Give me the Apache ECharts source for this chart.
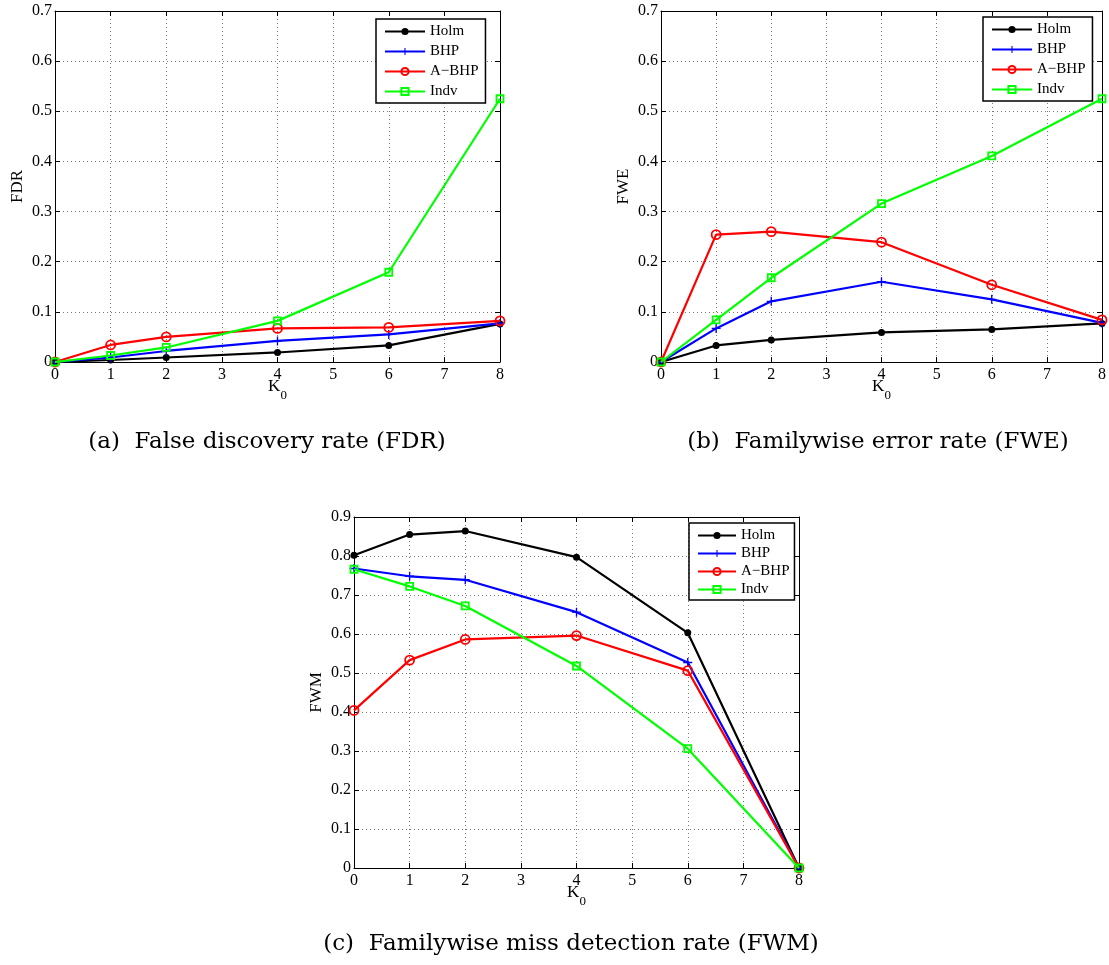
<!DOCTYPE html>
<html><head><meta charset="utf-8">
<script src="https://cdn.jsdelivr.net/npm/echarts@6/dist/echarts.min.js"></script>
<style>html,body{margin:0;padding:0;background:#fff}#c{width:1109px;height:965px}</style>
</head><body><div id="c"></div>
<script>
// ---- data ----
const K0 = [0, 1, 2, 4, 6, 8];
const seriesNames = ['Holm', 'BHP', 'A\u2212BHP', 'Indv'];

const fdrHolm = [0, 0.004, 0.009, 0.019, 0.033, 0.076];
const fdrBHP  = [0, 0.009, 0.022, 0.042, 0.055, 0.077];
const fdrABHP = [0, 0.034, 0.050, 0.067, 0.069, 0.082];
const fdrIndv = [0, 0.013, 0.029, 0.082, 0.179, 0.525];

const fweHolm = [0, 0.033, 0.044, 0.059, 0.065, 0.077];
const fweBHP  = [0, 0.067, 0.121, 0.160, 0.125, 0.078];
const fweABHP = [0, 0.254, 0.260, 0.239, 0.154, 0.084];
const fweIndv = [0, 0.084, 0.168, 0.316, 0.411, 0.525];

const fwmHolm = [0.802, 0.855, 0.864, 0.797, 0.603, 0];
const fwmBHP  = [0.768, 0.748, 0.739, 0.656, 0.527, 0];
const fwmABHP = [0.404, 0.533, 0.586, 0.596, 0.506, 0];
const fwmIndv = [0.766, 0.722, 0.672, 0.518, 0.306, 0];

const panelY = ['FDR', 'FWE', 'FWM'];
const panelYMax = [0.7, 0.7, 0.9];
const captions = ['(a)  False discovery rate (FDR)', '(b)  Familywise error rate (FWE)', '(c)  Familywise miss detection rate (FWM)'];

// ---- styles ----
const FONT = '"Liberation Serif", "Times New Roman", serif';
const colors = ['#000000', '#0000ff', '#ff0000', '#00ff00'];
const PLUS = 'path://M-0.9,-6H0.9V-0.9H6V0.9H0.9V6H-0.9V0.9H-6V-0.9H-0.9Z';
const symbols = ['circle', PLUS, 'circle', 'rect'];
const symbolSizes = [7, 9, 9, 7];
const hollow = [false, false, true, true];

const grids = [
  {left: 55, top: 11, width: 445, height: 351},
  {left: 661, top: 11, width: 444, height: 351},
  {left: 354, top: 517, width: 445, height: 351}
];
const legends = [
  {left: 376, top: 19, gap: 5, pad: [5, 7, 4, 8], iw: 40},
  {left: 983, top: 17, gap: 5, pad: [5, 7, 4, 8], iw: 40},
  {left: 689, top: 523, gap: 3, pad: [5, 5, 3, 8], iw: 38}
];
const capPos = [[267, 442], [878, 442], [571, 944]];

const panelData = [
  [fdrHolm, fdrBHP, fdrABHP, fdrIndv],
  [fweHolm, fweBHP, fweABHP, fweIndv],
  [fwmHolm, fwmBHP, fwmABHP, fwmIndv]
];

const xAxis = [], yAxis = [], series = [], legend = [], graphic = [];
grids.forEach((g, i) => {
  const common = {
    gridIndex: i, type: 'value', min: 0,
    axisLine: {show: true, onZero: false, lineStyle: {color: '#000', width: 1}},
    axisTick: {show: true, inside: true, length: 5, lineStyle: {color: '#000'}},
  };
  xAxis.push(Object.assign({}, common, {
    position: 'bottom', max: 8, interval: 1,
    axisLabel: {color: '#000', fontFamily: FONT, fontSize: 16, margin: 5},
    splitLine: {show: true, lineStyle: {type: [1, 3], color: '#777', width: 1}},
    name: '{k|K}{s|0}', nameLocation: 'middle', nameGap: 16, nameMoveOverlap: false,
    nameTextStyle: {rich: {
      k: {fontFamily: FONT, fontSize: 17, color: '#000', verticalAlign: 'top', lineHeight: 18},
      s: {fontFamily: FONT, fontSize: 13, color: '#000', padding: [17, 0, 0, 0], lineHeight: 14}
    }}
  }));
  xAxis.push(Object.assign({}, common, {
    position: 'top', max: 8, interval: 1,
    axisLabel: {show: false}, splitLine: {show: false}
  }));
  yAxis.push(Object.assign({}, common, {
    position: 'left', max: panelYMax[i], interval: 0.1,
    axisLabel: {color: '#000', fontFamily: FONT, fontSize: 16, margin: 3},
    splitLine: {show: true, lineStyle: {type: [1, 3], color: '#777', width: 1}},
    name: panelY[i], nameLocation: 'middle', nameGap: 29,
    nameTextStyle: {fontFamily: FONT, fontSize: 17, color: '#000'}
  }));
  yAxis.push(Object.assign({}, common, {
    position: 'right', max: panelYMax[i], interval: 0.1,
    axisLabel: {show: false}, splitLine: {show: false}
  }));

  panelData[i].forEach((vals, s) => {
    series.push({
      type: 'line', name: seriesNames[s],
      xAxisIndex: 2 * i, yAxisIndex: 2 * i,
      data: K0.map((k, j) => [k, vals[j]]),
      symbol: symbols[s], symbolSize: symbolSizes[s], showAllSymbol: true,
      lineStyle: {color: colors[s], width: 2.2},
      itemStyle: hollow[s]
        ? {color: 'rgba(255,255,255,0)', borderColor: colors[s], borderWidth: 1.8}
        : {color: colors[s], borderColor: colors[s], borderWidth: 0},
      emphasis: {disabled: true}, animation: false, z: 2 + s
    });
  });

  const L = legends[i];
  legend.push({
    data: seriesNames, orient: 'vertical', left: L.left, top: L.top,
    itemGap: L.gap, itemWidth: L.iw, itemHeight: 9, itemTextGap: 5,
    padding: L.pad, borderColor: '#000', borderWidth: 1.5, backgroundColor: '#fff',
    selectedMode: false,
    textStyle: {fontFamily: FONT, fontSize: 15, color: '#000'}
  });

  graphic.push({
    type: 'text', x: capPos[i][0], y: capPos[i][1],
    style: {text: captions[i], font: '23px "DejaVu Serif", serif', fill: '#000',
      textAlign: 'center', textVerticalAlign: 'middle'}
  });
});

const chart = echarts.init(document.getElementById('c'), null, {renderer: 'canvas'});
chart.setOption({
  backgroundColor: '#fff', animation: false,
  grid: grids, xAxis, yAxis, series, legend, graphic
});
</script></body></html>
